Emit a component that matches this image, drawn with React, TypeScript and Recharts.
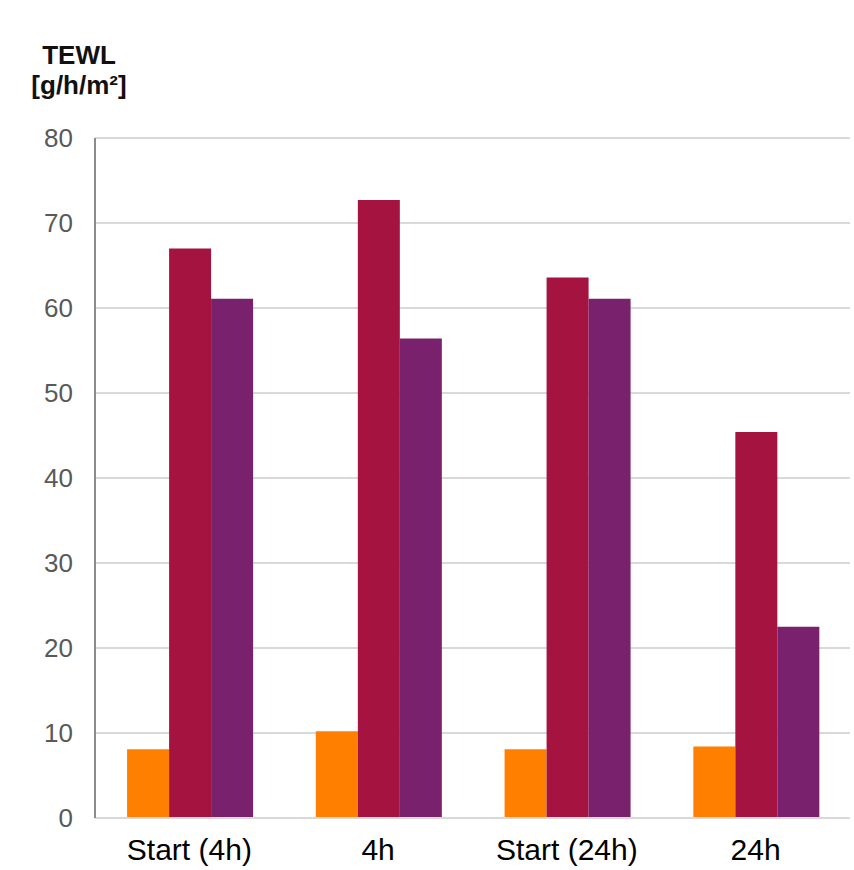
import { BarChart, Bar, XAxis, YAxis, CartesianGrid } from 'recharts';

const categories = ['Start (4h)', '4h', 'Start (24h)', '24h'];
const seriesA = [8.1, 10.2, 8.1, 8.4];
const seriesB = [67.0, 72.7, 63.6, 45.4];
const seriesC = [61.1, 56.4, 61.1, 22.5];
const yTicks = [0, 10, 20, 30, 40, 50, 60, 70, 80];

const data = categories.map((name, i) => ({
  name,
  a: seriesA[i],
  b: seriesB[i],
  c: seriesC[i],
}));

const font = '"Liberation Sans", Arial, sans-serif';

export default function App() {
  return (
    <div style={{ position: 'absolute', left: 0, top: 0, width: 854, height: 870 }}>
      <BarChart
        width={854}
        height={870}
        data={data}
        margin={{ top: 138, right: 4, bottom: 0, left: 0 }}
        barCategoryGap="17%"
        barGap={0}
      >
        <CartesianGrid vertical={false} stroke="#d9d9d9" strokeWidth={2} />
        <XAxis
          dataKey="name"
          height={52}
          tickLine={false}
          tickSize={0}
          tickMargin={21}
          axisLine={{ stroke: '#d9d9d9', strokeWidth: 2 }}
          tick={{ fill: '#000', fontSize: 30, fontFamily: font }}
        />
        <YAxis
          width={95}
          domain={[0, 80]}
          ticks={yTicks}
          tickLine={false}
          tickSize={0}
          tickMargin={22}
          axisLine={{ stroke: '#8c8c8c', strokeWidth: 2 }}
          tick={{ fill: '#595959', fontSize: 26, fontFamily: font }}
        />
        <Bar dataKey="a" fill="#ff7f00" isAnimationActive={false} />
        <Bar dataKey="b" fill="#a51441" isAnimationActive={false} />
        <Bar dataKey="c" fill="#7a216d" isAnimationActive={false} />
      </BarChart>
      <svg
        width={160}
        height={110}
        style={{ position: 'absolute', left: 0, top: 0, pointerEvents: 'none' }}
      >
        <text x={79} y={64} textAnchor="middle" fontFamily={font} fontWeight="bold" fontSize={26} fill="#111">
          TEWL
        </text>
        <text x={79} y={94} textAnchor="middle" fontFamily={font} fontWeight="bold" fontSize={26} fill="#111">
          [g/h/m²]
        </text>
      </svg>
    </div>
  );
}
